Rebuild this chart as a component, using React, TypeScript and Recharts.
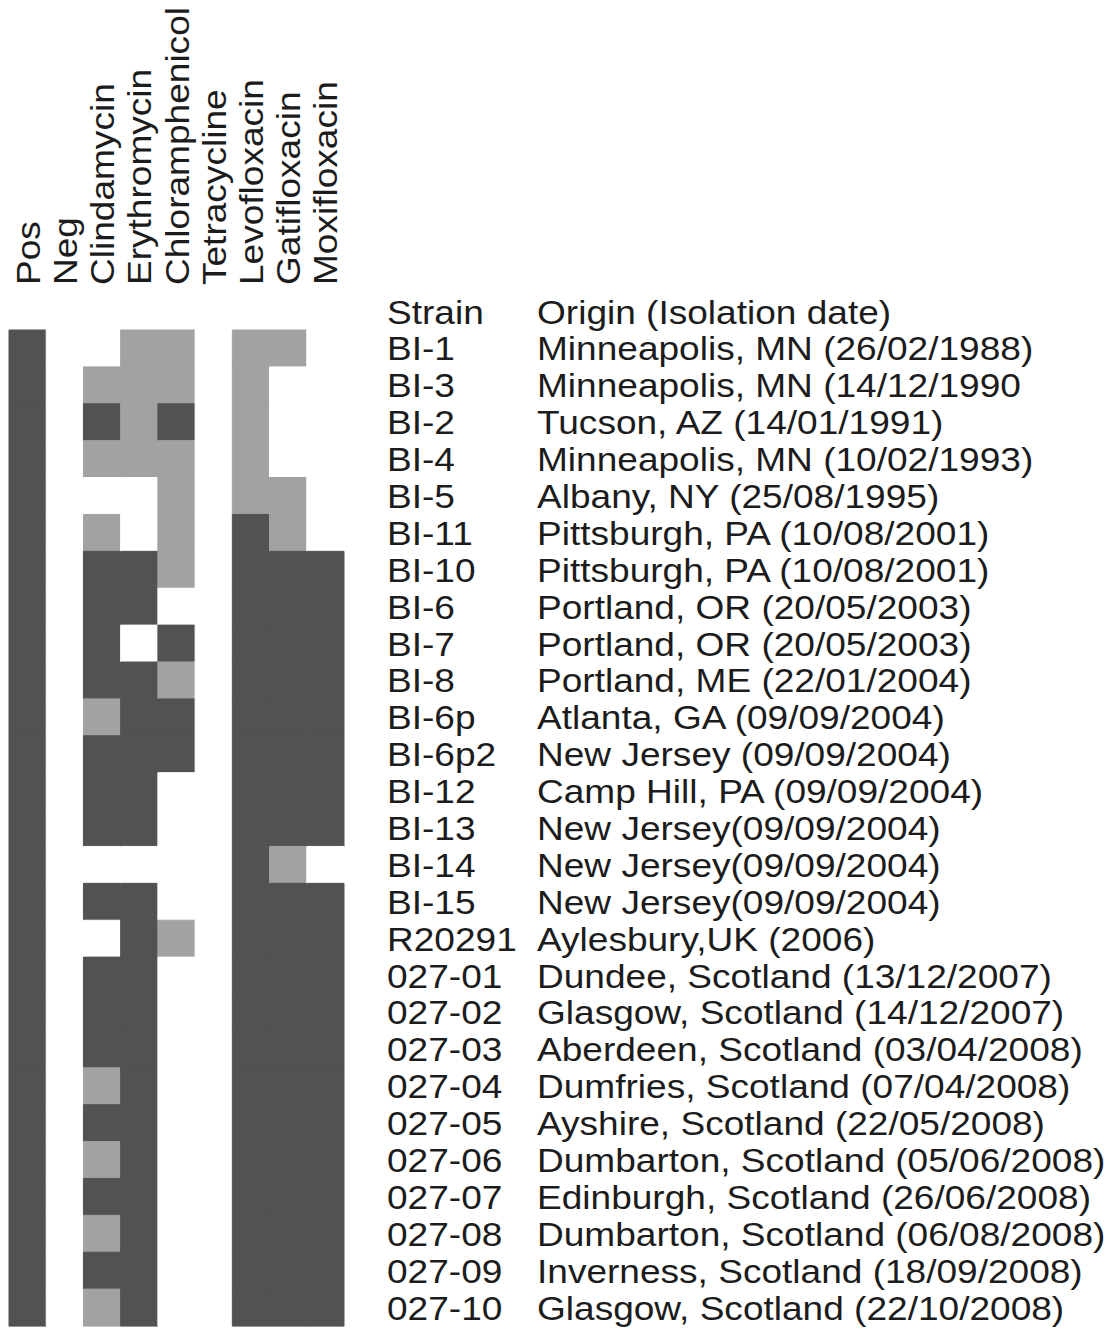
import * as React from "react"
import { BarChart, Bar, XAxis, YAxis, Cell, Label } from "recharts"

const columns = [
  "Pos", "Neg", "Clindamycin", "Erythromycin", "Chloramphenicol",
  "Tetracycline", "Levofloxacin", "Gatifloxacin", "Moxifloxacin",
]

const strains = [
  "BI-1", "BI-3", "BI-2", "BI-4", "BI-5", "BI-11", "BI-10", "BI-6", "BI-7",
  "BI-8", "BI-6p", "BI-6p2", "BI-12", "BI-13", "BI-14", "BI-15", "R20291",
  "027-01", "027-02", "027-03", "027-04", "027-05", "027-06", "027-07",
  "027-08", "027-09", "027-10",
]

const origins = [
  "Minneapolis, MN (26/02/1988)",
  "Minneapolis, MN (14/12/1990",
  "Tucson, AZ (14/01/1991)",
  "Minneapolis, MN (10/02/1993)",
  "Albany, NY (25/08/1995)",
  "Pittsburgh, PA (10/08/2001)",
  "Pittsburgh, PA (10/08/2001)",
  "Portland, OR (20/05/2003)",
  "Portland, OR (20/05/2003)",
  "Portland, ME (22/01/2004)",
  "Atlanta, GA (09/09/2004)",
  "New Jersey (09/09/2004)",
  "Camp Hill, PA (09/09/2004)",
  "New Jersey(09/09/2004)",
  "New Jersey(09/09/2004)",
  "New Jersey(09/09/2004)",
  "Aylesbury,UK (2006)",
  "Dundee, Scotland (13/12/2007)",
  "Glasgow, Scotland (14/12/2007)",
  "Aberdeen, Scotland (03/04/2008)",
  "Dumfries, Scotland (07/04/2008)",
  "Ayshire, Scotland (22/05/2008)",
  "Dumbarton, Scotland (05/06/2008)",
  "Edinburgh, Scotland (26/06/2008)",
  "Dumbarton, Scotland (06/08/2008)",
  "Inverness, Scotland (18/09/2008)",
  "Glasgow, Scotland (22/10/2008)",
]

// 0 = blank, 1 = light grey, 2 = dark grey (one value per strain, same order)
const pos = [2,2,2,2,2,2,2,2,2,2,2,2,2,2,2,2,2,2,2,2,2,2,2,2,2,2,2]
const neg = [0,0,0,0,0,0,0,0,0,0,0,0,0,0,0,0,0,0,0,0,0,0,0,0,0,0,0]
const clindamycin = [0,1,2,1,0,1,2,2,2,2,1,2,2,2,0,2,0,2,2,2,1,2,1,2,1,2,1]
const erythromycin = [1,1,1,1,0,0,2,2,0,2,2,2,2,2,0,2,2,2,2,2,2,2,2,2,2,2,2]
const chloramphenicol = [1,1,2,1,1,1,1,0,2,1,2,2,0,0,0,0,1,0,0,0,0,0,0,0,0,0,0]
const tetracycline = [0,0,0,0,0,0,0,0,0,0,0,0,0,0,0,0,0,0,0,0,0,0,0,0,0,0,0]
const levofloxacin = [1,1,1,1,1,2,2,2,2,2,2,2,2,2,2,2,2,2,2,2,2,2,2,2,2,2,2]
const gatifloxacin = [1,0,0,0,1,1,2,2,2,2,2,2,2,2,1,2,2,2,2,2,2,2,2,2,2,2,2]
const moxifloxacin = [0,0,0,0,0,0,2,2,2,2,2,2,2,2,0,2,2,2,2,2,2,2,2,2,2,2,2]

const matrix = [
  pos, neg, clindamycin, erythromycin, chloramphenicol,
  tetracycline, levofloxacin, gatifloxacin, moxifloxacin,
]

const shades = ["#ffffff", "#a2a2a2", "#525252"]
const FONT = "'Liberation Sans', Arial, sans-serif"
const TEXT = "#1c1c1c"
const FS = 34
const STRETCH = 1.09 // reference lettering is a bit wider than Arial

// each row: strain name + one unit-wide cell per column
const table = strains.map((s) => {
  const row: any = { strain: s }
  columns.forEach((_, c) => { row["c" + c] = 1 })
  return row
})

function Word({ x, y, rotate, children }: any) {
  const r = rotate ? " rotate(-90)" : ""
  return (
    <text
      transform={`translate(${x}, ${y})${r} scale(${STRETCH}, 1)`}
      fontFamily={FONT} fontSize={FS} fill={TEXT}
    >
      {children}
    </text>
  )
}

function HeaderTick(props: any) {
  const { x, y, index } = props
  return <Word x={x + 12} y={y - 45} rotate>{columns[index]}</Word>
}

function StrainTick(props: any) {
  const { x, y, index } = props
  return (
    <g>
      <Word x={x + 43} y={y + 12}>{strains[index]}</Word>
      <Word x={x + 193} y={y + 12}>{origins[index]}</Word>
    </g>
  )
}

function TableHeader(props: any) {
  const { x, y } = props.viewBox
  return (
    <g>
      <Word x={x + 43} y={y - 6}>Strain</Word>
      <Word x={x + 193} y={y - 6}>Origin (Isolation date)</Word>
    </g>
  )
}

export default function App() {
  return (
    <div style={{ position: "absolute", left: 0, top: 0, background: "#fff" }}>
      <BarChart
        width={1118}
        height={1332}
        data={table}
        layout="vertical"
        barCategoryGap={0}
        barGap={0}
        margin={{ top: 30, right: 0, bottom: 6, left: 9 }}
      >
        <XAxis
          type="number"
          orientation="top"
          domain={[0, 9]}
          ticks={[0.5, 1.5, 2.5, 3.5, 4.5, 5.5, 6.5, 7.5, 8.5]}
          height={300}
          axisLine={false}
          tickLine={false}
          tickSize={0}
          tickMargin={0}
          interval={0}
          tick={<HeaderTick />}
        />
        <YAxis
          type="category"
          dataKey="strain"
          orientation="right"
          width={774}
          axisLine={false}
          tickLine={false}
          tickSize={0}
          tickMargin={0}
          interval={0}
          tick={<StrainTick />}
        >
          <Label content={<TableHeader />} />
        </YAxis>
        {columns.map((col, c) => (
          <Bar key={col} dataKey={"c" + c} stackId="grid" isAnimationActive={false}>
            {table.map((_, r) => (
              <Cell
                key={r}
                fill={shades[matrix[c][r]]}
                stroke={shades[matrix[c][r]]}
                strokeWidth={1}
              />
            ))}
          </Bar>
        ))}
      </BarChart>
    </div>
  )
}
